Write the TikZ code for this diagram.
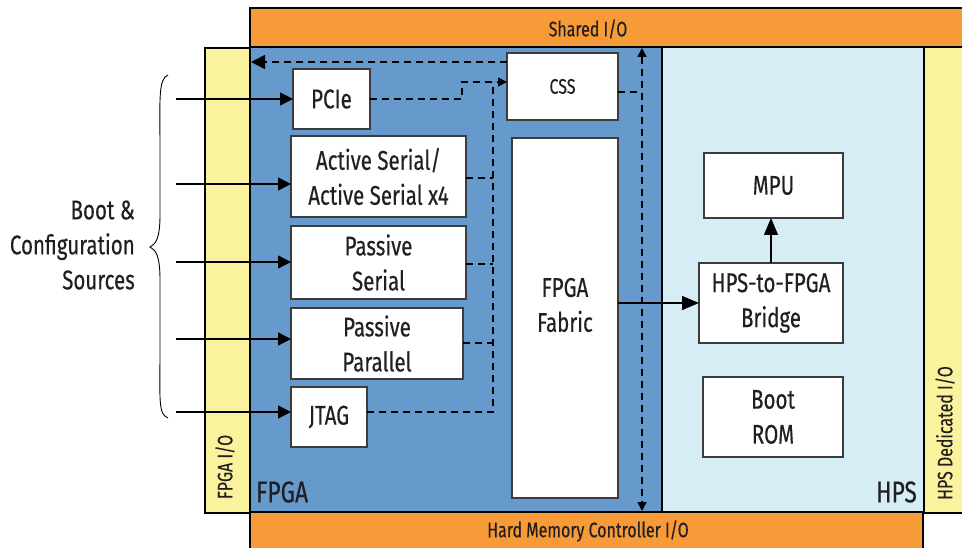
\documentclass[tikz,border=0pt]{standalone}
\usepackage{fontspec}
\setmainfont{Fira Sans}[FakeStretch=0.76,FakeBold=0.35]
\usetikzlibrary{arrows.meta}
\definecolor{orangeio}{RGB}{247,154,56}
\definecolor{fpgablue}{RGB}{102,153,204}
\definecolor{hpsblue}{RGB}{214,237,245}
\definecolor{yellowio}{RGB}{250,243,158}
\definecolor{boxline}{RGB}{60,60,60}
\definecolor{txt}{RGB}{35,31,32}
\begin{document}
\begin{tikzpicture}[x=1pt,y=-1pt,
  region/.style={draw=black, line width=1.4pt, rectangle, anchor=north west, inner sep=0pt, outer sep=0pt},
  blk/.style={draw=boxline, line width=1.3pt, fill=white, rectangle, inner sep=0pt, outer sep=0pt, align=center, text=txt, font=\fontsize{27}{35}\selectfont},
  lbl/.style={text=txt, inner sep=0pt, align=center},
  iotext/.style={lbl, font=\fontsize{21}{24}\selectfont},
  inarrow/.style={line width=1.3pt, draw=black, -{Triangle[length=13pt,width=13pt]}},
  solidarrow/.style={line width=1.3pt, draw=black, -{Triangle[length=17pt,width=14pt]}},
  dline/.style={line width=1.5pt, draw=black, dash pattern=on 7pt off 5pt},
  smalltip/.style={-{Triangle[length=9pt,width=9pt]}},
]
\useasboundingbox (0,0) rectangle (962,548);
% regions
\node[region, fill=orangeio, minimum width=720pt, minimum height=39pt] (shared) at (250,8) {};
\node[region, fill=yellowio, minimum width=45pt, minimum height=465pt] (fpgaio) at (205,48) {};
\node[region, fill=yellowio, minimum width=44pt, minimum height=466pt] (hpsio) at (924,47) {};
\node[region, fill=fpgablue, minimum width=412pt, minimum height=465pt] (fpga) at (250,47) {};
\node[region, fill=hpsblue, minimum width=262pt, minimum height=465pt] (hps) at (662,47) {};
\node[region, fill=orangeio, minimum width=673pt, minimum height=45pt] (hmc) at (250,512) {};

\node[iotext] (sharedt) at (588,29) {Shared I/O};
\node[iotext] (hmct) at (588,531) {Hard Memory Controller I/O};
\node[iotext, rotate=90] (fpgaiot) at (225,467) {FPGA I/O};
\node[iotext, rotate=90] (hpsiot) at (945,433) {HPS Dedicated I/O};
\node[lbl, anchor=west, font=\fontsize{30}{32}\selectfont] (fpgat) at (256,492) {FPGA};
\node[lbl, anchor=east, font=\fontsize{30}{32}\selectfont] (hpst) at (917,492) {HPS};

% blocks
\node[blk, minimum width=77pt, minimum height=60pt] (pcie) at (331.5,99) {PCIe};
\node[blk, minimum width=111pt, minimum height=67pt, font=\fontsize{21}{24}\selectfont] (css) at (562.5,86.5) {CSS};
\node[blk, minimum width=175pt, minimum height=81pt] (as) at (378.5,176.5) {Active Serial/\\Active Serial x4};
\node[blk, minimum width=175pt, minimum height=73pt] (ps) at (378.5,262.5) {Passive\\Serial};
\node[blk, minimum width=172pt, minimum height=71pt] (pp) at (377,343.5) {Passive\\Parallel};
\node[blk, minimum width=76pt, minimum height=60pt] (jtag) at (329,417) {JTAG};
\node[blk, minimum width=106pt, minimum height=360pt] (fabric) at (565,318) {};
\node[lbl, font=\fontsize{27}{35}\selectfont] (fabrict) at (565,305) {FPGA\\Fabric};
\node[blk, minimum width=139pt, minimum height=65pt] (mpu) at (773.5,185.5) {MPU};
\node[blk, minimum width=144pt, minimum height=80pt] (bridge) at (771,303) {HPS-to-FPGA\\Bridge};
\node[blk, minimum width=140pt, minimum height=80pt] (bootrom) at (773,417) {Boot\\ROM};

% boot & configuration sources
\node[lbl, anchor=east, align=right, font=\fontsize{27}{35}\selectfont] (srcs) at (135,245) {Boot \&\\Configuration\\Sources};
\draw[line width=0.9pt] (168,75) .. controls (158,79) and (160,100) .. (160,150)
  -- (160,215) .. controls (160,238) and (156,244) .. (150,247)
  .. controls (156,250) and (160,256) .. (160,280)
  -- (160,350) .. controls (160,400) and (158,414) .. (168,418);

\coordinate (s1) at (176,99);
\coordinate (s2) at (176,184);
\coordinate (s3) at (176,262);
\coordinate (s4) at (176,339);
\coordinate (s5) at (176,412);
\draw[inarrow] (s1) -- (s1 -| pcie.west);
\draw[inarrow] (s2) -- (s2 -| as.west);
\draw[inarrow] (s3) -- (s3 -| ps.west);
\draw[inarrow] (s4) -- (s4 -| pp.west);
\draw[inarrow] (s5) -- (s5 -| jtag.west);

% dashed configuration paths
\coordinate (bus) at (493,82);
\coordinate (jog) at (462,82);
\draw[dline, smalltip] (pcie.east) -- (pcie.east -| jog) -- (jog) -- (jog -| css.west);
\coordinate (jo) at (493,412);
\draw[dline] (jo -| jtag.east) -- (jo) -- (bus);
\coordinate (ao) at (493,178);
\coordinate (po) at (493,264);
\coordinate (qo) at (493,343);
\draw[dline] (ao -| as.east) -- (ao);
\draw[dline] (po -| ps.east) -- (po);
\draw[dline] (qo -| pp.east) -- (qo);
% CSS outputs
\coordinate (vt) at (642,48);
\coordinate (vb) at (642,511);
\coordinate (co) at (642,92);
\draw[dline, {Triangle[length=9pt,width=9pt]}-{Triangle[length=9pt,width=9pt]}] (vt) -- (vb);
\draw[dline] (co -| css.east) -- (co);
\coordinate (lo) at (251,62);
\draw[dline, -{Triangle[length=14pt,width=14pt]}] (lo -| css.west) -- (lo);

% HPS connections
\draw[solidarrow] (bridge.west -| fabric.east) -- (bridge.west);
\draw[solidarrow] (bridge.north) -- (bridge.north |- mpu.south);
\end{tikzpicture}
\end{document}
